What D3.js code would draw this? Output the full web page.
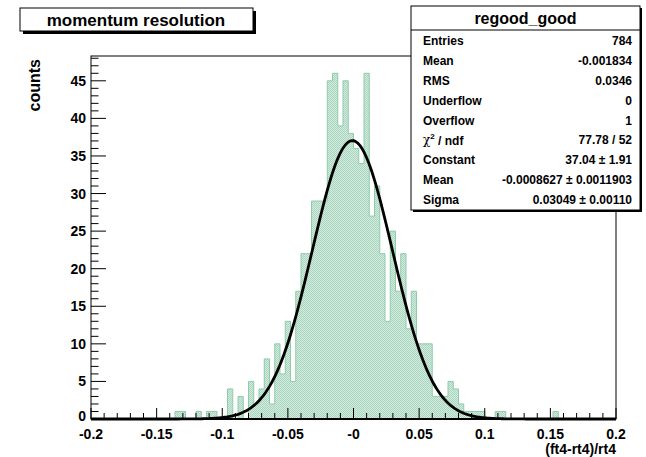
<!DOCTYPE html>
<html>
<head>
  <meta charset="utf-8">
  <title>momentum resolution</title>
  <script src="https://d3js.org/d3.v7.min.js"></script>
  <style>
    body { margin: 0; background: white; }
    text { font-family: "Liberation Sans", Arial, Helvetica, sans-serif; font-weight: bold; fill: #000; }
  </style>
</head>
<body>
<script>
  // Data: 100 bins from -0.2 to 0.2
  var binLow = -0.2;
  var binHigh = 0.2;
  var binCounts = [
    0, 0, 0, 0, 0, 0, 0, 0, 0, 0,
    0, 0, 0, 0, 0, 0, 1, 1, 0, 0,
    1, 0, 1, 1, 0, 0, 4, 0, 3, 0,
    5, 2, 4, 8, 2, 10, 6, 13, 5, 17,
    22, 22, 29, 29, 29, 45, 46, 39, 45, 38,
    36, 34, 46, 27, 31, 22, 13, 25, 17, 22,
    12, 17, 10, 10, 10, 3, 3, 3, 5, 4,
    2, 1, 1, 1, 1, 0, 0, 1, 1, 0,
    0, 0, 0, 0, 0, 0, 0, 0, 1, 0,
    0, 0, 0, 0, 0, 0, 0, 0, 0, 0
  ];
  var xTicks = [-0.2, -0.15, -0.1, -0.05, 0, 0.05, 0.1, 0.15, 0.2];
  var xTickLabels = ["-0.2", "-0.15", "-0.1", "-0.05", "-0", "0.05", "0.1", "0.15", "0.2"];
  var yTicks = [0, 5, 10, 15, 20, 25, 30, 35, 40, 45];
  var yMax = 48.3;

  // Gaussian fit parameters (from the stats box)
  var fitConstant = 37.04;
  var fitMean = -0.0008627;
  var fitSigma = 0.03049;

  var statNames = ["Entries", "Mean", "RMS", "Underflow", "Overflow", "chi2", "Constant", "Mean", "Sigma"];
  var statValues = ["784", "-0.001834", "0.0346", "0", "1", "77.78 / 52", "37.04 \u00b1 1.91",
                    "-0.0008627 \u00b1 0.0011903", "0.03049 \u00b1 0.00110"];

  // Layout
  var W = 646, H = 457;
  var frame = {left: 91, right: 616, top: 56, bottom: 419};

  var svg = d3.select("body").append("svg")
      .attr("width", W)
      .attr("height", H);

  // dithered fill like ROOT
  var defs = svg.append("defs");
  var pat = defs.append("pattern")
      .attr("id", "dither")
      .attr("width", 2).attr("height", 2)
      .attr("patternUnits", "userSpaceOnUse");
  pat.append("rect").attr("width", 2).attr("height", 2).attr("fill", "#d4ece0");
  pat.append("rect").attr("width", 1).attr("height", 1).attr("fill", "#a9d5be");
  pat.append("rect").attr("x", 1).attr("y", 1).attr("width", 1).attr("height", 1).attr("fill", "#a9d5be");

  // Scales
  var x = d3.scaleLinear().domain([binLow, binHigh]).range([frame.left, frame.right]);
  var y = d3.scaleLinear().domain([0, yMax]).range([frame.bottom, frame.top]);

  var binWidth = (binHigh - binLow) / binCounts.length;
  var steps = binCounts.map(function(c, i) { return {edge: binLow + i * binWidth, c: c}; });
  steps.push({edge: binHigh, c: binCounts[binCounts.length - 1]});

  // Histogram fill
  svg.append("path")
      .datum(steps)
      .attr("fill", "url(#dither)")
      .attr("d", d3.area()
          .curve(d3.curveStepAfter)
          .x(function(d) { return x(d.edge); })
          .y0(y(0))
          .y1(function(d) { return y(d.c); }));

  // Histogram outline
  svg.append("path")
      .datum(steps)
      .attr("fill", "none")
      .attr("stroke", "#8fcba9")
      .attr("stroke-width", 1)
      .attr("d", d3.line()
          .curve(d3.curveStepAfter)
          .x(function(d) { return x(d.edge); })
          .y(function(d) { return y(d.c); }));

  // Fit curve
  var fitX = d3.range(0, 401).map(function(i) { return binLow + i * (binHigh - binLow) / 400; });
  svg.append("path")
      .datum(fitX)
      .attr("fill", "none")
      .attr("stroke", "#000")
      .attr("stroke-width", 2.8)
      .attr("d", d3.line()
          .x(function(d) { return x(d); })
          .y(function(d) {
            var z = (d - fitMean) / fitSigma;
            return y(fitConstant * Math.exp(-0.5 * z * z));
          }));

  // Frame
  svg.append("rect")
      .attr("x", frame.left).attr("y", frame.top)
      .attr("width", frame.right - frame.left)
      .attr("height", frame.bottom - frame.top)
      .attr("fill", "none")
      .attr("stroke", "#000")
      .attr("stroke-width", 1);

  // Y axis ticks (ROOT style: inward)
  var gy = svg.append("g");
  d3.range(0, 49).forEach(function(v) {
    var major = v % 5 === 0;
    gy.append("line")
        .attr("x1", frame.left).attr("x2", frame.left + (major ? 15 : 7.5))
        .attr("y1", y(v)).attr("y2", y(v))
        .attr("stroke", "#000");
  });
  gy.selectAll("text.ylab")
      .data(yTicks)
      .enter().append("text")
      .attr("class", "ylab")
      .attr("x", frame.left - 5)
      .attr("y", function(d) { return d === 0 ? y(d) - 3 : y(d); })
      .attr("dy", "0.36em")
      .attr("text-anchor", "end")
      .attr("font-size", 14)
      .text(function(d) { return d; });

  // X axis ticks
  var gx = svg.append("g");
  d3.range(0, 41).forEach(function(i) {
    var v = binLow + i * 0.01;
    var major = i % 5 === 0;
    gx.append("line")
        .attr("x1", x(v)).attr("x2", x(v))
        .attr("y1", frame.bottom).attr("y2", frame.bottom - (major ? 11 : 6))
        .attr("stroke", "#000");
  });
  gx.append("line")
      .attr("x1", frame.left).attr("x2", frame.right)
      .attr("y1", frame.bottom).attr("y2", frame.bottom)
      .attr("stroke", "#000").attr("stroke-width", 2);
  gx.selectAll("text.xlab")
      .data(xTicks)
      .enter().append("text")
      .attr("class", "xlab")
      .attr("x", function(d) { return x(d); })
      .attr("y", frame.bottom + 15)
      .attr("dy", "0.36em")
      .attr("text-anchor", "middle")
      .attr("font-size", 14)
      .text(function(d, i) { return xTickLabels[i]; });

  // Axis titles
  svg.append("text")
      .attr("x", frame.right)
      .attr("y", 454)
      .attr("text-anchor", "end")
      .attr("font-size", 14)
      .text("(ft4-rt4)/rt4");
  svg.append("text")
      .attr("transform", "translate(40," + (frame.top + 3) + ") rotate(-90)")
      .attr("text-anchor", "end")
      .attr("font-size", 16)
      .text("counts");

  // Title box
  svg.append("rect").attr("x", 23).attr("y", 11).attr("width", 233).attr("height", 23).attr("fill", "#000");
  svg.append("rect").attr("x", 20).attr("y", 8).attr("width", 233).attr("height", 23)
      .attr("fill", "#fff").attr("stroke", "#000").attr("stroke-width", 1);
  svg.append("text")
      .attr("x", 136).attr("y", 20)
      .attr("dy", "0.36em")
      .attr("text-anchor", "middle")
      .attr("font-size", 17)
      .text("momentum resolution");

  // Stats box
  var sb = {x: 411, y: 6, w: 229, h: 204};
  svg.append("rect").attr("x", sb.x + 2).attr("y", sb.y + 2).attr("width", sb.w).attr("height", sb.h).attr("fill", "#000");
  svg.append("rect").attr("x", sb.x).attr("y", sb.y).attr("width", sb.w).attr("height", sb.h)
      .attr("fill", "#fff").attr("stroke", "#000").attr("stroke-width", 1);
  svg.append("line")
      .attr("x1", sb.x).attr("x2", sb.x + sb.w)
      .attr("y1", 30).attr("y2", 30)
      .attr("stroke", "#000");
  svg.append("text")
      .attr("x", sb.x + sb.w / 2).attr("y", 18)
      .attr("dy", "0.36em")
      .attr("text-anchor", "middle")
      .attr("font-size", 16)
      .text("regood_good");

  statNames.forEach(function(name, i) {
    var ry = 41 + i * 19.8;
    var t = svg.append("text")
        .attr("x", sb.x + 12).attr("y", ry)
        .attr("dy", "0.36em")
        .attr("font-size", 12);
    if (name === "chi2") {
      t.append("tspan").attr("font-family", "DejaVu Serif").attr("font-weight", "normal").text("\u03c7");
      t.append("tspan").attr("font-size", 8).attr("dy", "-0.7em").text("2");
      t.append("tspan").attr("dy", "0.55em").text(" / ndf");
    } else {
      t.text(name);
    }
    svg.append("text")
        .attr("x", sb.x + sb.w - 8).attr("y", ry)
        .attr("dy", "0.36em")
        .attr("text-anchor", "end")
        .attr("font-size", 12)
        .text(statValues[i]);
  });
</script>
</body>
</html>
